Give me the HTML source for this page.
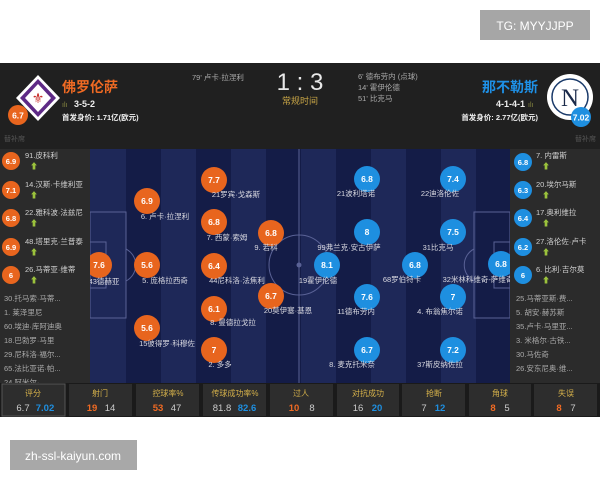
<!DOCTYPE html>
<html><head><meta charset="utf-8"><style>
html,body{margin:0;padding:0;background:#fff;width:600px;height:480px;overflow:hidden}
svg{display:block;font-family:"Liberation Sans","Noto Sans CJK SC",sans-serif}
</style></head><body>
<svg width="600" height="480" viewBox="0 0 600 480" xmlns="http://www.w3.org/2000/svg">
<rect width="600" height="480" fill="#fff"/>
<rect x="480" y="10" width="110" height="30" fill="#a6a6a6"/>
<text x="535" y="30" fill="#fff" font-size="12" text-anchor="middle">TG: MYYJJPP</text>
<rect x="10" y="440" width="127" height="30" fill="#a8a8a8"/>
<text x="73" y="460" fill="#fff" font-size="12" text-anchor="middle">zh-ssl-kaiyun.com</text>

<!-- header -->
<rect x="0" y="63" width="600" height="86" fill="#202020"/>
<polygon points="38,75 60,98 38,121 16,98" fill="#fff"/>
<polygon points="38,79 56,98 38,117 20,98" fill="#5e2a86"/>
<polygon points="38,84 51,98 38,112 25,98" fill="#fff"/>
<text x="38" y="103" fill="#c8302c" font-size="14" text-anchor="middle">⚜</text>
<circle cx="18" cy="115" r="10" fill="#e8651e"/>
<text x="18" y="118.5" fill="#fff" font-size="8.5" font-weight="bold" text-anchor="middle">6.7</text>
<text x="62" y="92" fill="#f06a23" font-size="14" font-weight="bold">佛罗伦萨</text>
<text x="62" y="107" fill="#8a8a40" font-size="7">ılı</text>
<text x="74" y="107" fill="#eee" font-size="9" font-weight="bold">3-5-2</text>
<text x="62" y="120" fill="#eee" font-size="7.5" font-weight="bold">首发身价: 1.71亿(欧元)</text>
<text x="4" y="141" fill="#555" font-size="7">替补席</text>
<text x="192" y="80" fill="#aaa" font-size="7.5">79' 卢卡·拉涅利</text>
<text x="300" y="90" fill="#e8e8e8" font-size="24" text-anchor="middle">1 : 3</text>
<text x="300" y="104" fill="#c9a646" font-size="9" text-anchor="middle">常规时间</text>
<text x="358" y="79" fill="#aaa" font-size="7.5">6' 德布劳内 (点球)</text>
<text x="358" y="90" fill="#aaa" font-size="7.5">14' 霍伊伦德</text>
<text x="358" y="101" fill="#aaa" font-size="7.5">51' 比克马</text>
<text x="538" y="92" fill="#1e90e6" font-size="14" font-weight="bold" text-anchor="end">那不勒斯</text>
<text x="525" y="107" fill="#eee" font-size="9" font-weight="bold" text-anchor="end">4-1-4-1</text>
<text x="528" y="107" fill="#8a8a40" font-size="7">ılı</text>
<text x="538" y="120" fill="#eee" font-size="7.5" font-weight="bold" text-anchor="end">首发身价: 2.77亿(欧元)</text>
<circle cx="570" cy="97" r="23" fill="#fff"/>
<circle cx="570" cy="97" r="18" fill="none" stroke="#1a3a6a" stroke-width="1.5"/>
<text x="570" y="106" fill="#1a2a4a" font-size="25" font-family="Liberation Serif,serif" text-anchor="middle">N</text>
<circle cx="581" cy="117" r="10" fill="#1e8fe0"/>
<text x="581" y="120.5" fill="#fff" font-size="8.5" font-weight="bold" text-anchor="middle">7.02</text>
<text x="596" y="141" fill="#555" font-size="7" text-anchor="end">替补席</text>

<!-- pitch -->
<rect x="90" y="149" width="420" height="234" fill="#1e2858"/>
<g fill="#141c47">
<rect x="126" y="149" width="35" height="234"/><rect x="196" y="149" width="35" height="234"/>
<rect x="266" y="149" width="35" height="234"/><rect x="336" y="149" width="35" height="234"/>
<rect x="406" y="149" width="35" height="234"/><rect x="476" y="149" width="34" height="234"/>
</g>
<g stroke="#5a6296" stroke-width="1" fill="none">
<line x1="299" y1="149" x2="299" y2="383"/>
<circle cx="299" cy="265" r="30"/>
<rect x="90" y="212" width="36" height="106"/>
<rect x="90" y="242" width="16" height="46"/>
<path d="M126,249 A18,18 0 0 1 126,281"/>
<rect x="474" y="212" width="36" height="106"/>
<rect x="494" y="242" width="16" height="46"/>
<path d="M474,249 A18,18 0 0 0 474,281"/>
</g>
<circle cx="299" cy="265" r="2.5" fill="#5a6296"/>

<g font-size="8.5" font-weight="bold" text-anchor="middle" fill="#fff">
<g fill="#e8651e">
<circle cx="99" cy="265" r="13"/><circle cx="147" cy="201" r="13"/><circle cx="147" cy="265" r="13"/><circle cx="147" cy="328" r="13"/>
<circle cx="214" cy="180" r="13"/><circle cx="214" cy="222" r="13"/><circle cx="214" cy="266" r="13"/><circle cx="214" cy="309" r="13"/><circle cx="214" cy="350" r="13"/>
<circle cx="271" cy="233" r="13"/><circle cx="271" cy="296" r="13"/>
</g>
<g fill="#1e8fe0">
<circle cx="367" cy="179" r="13"/><circle cx="453" cy="179" r="13"/><circle cx="367" cy="232" r="13"/><circle cx="453" cy="232" r="13"/>
<circle cx="327" cy="265" r="13"/><circle cx="415" cy="265" r="13"/><circle cx="501" cy="264" r="13"/>
<circle cx="367" cy="297" r="13"/><circle cx="453" cy="297" r="13"/><circle cx="367" cy="350" r="13"/><circle cx="453" cy="350" r="13"/>
</g>
<text x="99" y="268">7.6</text><text x="147" y="204">6.9</text><text x="147" y="268">5.6</text><text x="147" y="331">5.6</text>
<text x="214" y="183">7.7</text><text x="214" y="225">6.8</text><text x="214" y="269">6.4</text><text x="214" y="312">6.1</text><text x="214" y="353">7</text>
<text x="271" y="236">6.8</text><text x="271" y="299">6.7</text>
<text x="367" y="182">6.8</text><text x="453" y="182">7.4</text><text x="367" y="235">8</text><text x="453" y="235">7.5</text>
<text x="327" y="268">8.1</text><text x="415" y="268">6.8</text><text x="501" y="267">6.8</text>
<text x="367" y="300">7.6</text><text x="453" y="300">7</text><text x="367" y="353">6.7</text><text x="453" y="353">7.2</text>
</g>
<g font-size="7.5" fill="#d8d8e0" text-anchor="middle">
<text x="104" y="284">43德赫亚</text><text x="165" y="219">6. 卢卡·拉涅利</text><text x="165" y="283">5. 庞格拉西奇</text><text x="167" y="346">15彼得罗·科穆佐</text>
<text x="236" y="197">21罗宾·戈森斯</text><text x="227" y="240">7. 西蒙·索姆</text><text x="237" y="283">44尼科洛·法焦利</text><text x="233" y="325">8. 曼德拉戈拉</text><text x="220" y="367">2. 多多</text>
<text x="266" y="250">9. 若科</text><text x="288" y="313">20莫伊塞·基恩</text>
<text x="356" y="196">21波利塔诺</text><text x="440" y="196">22迪洛伦佐</text><text x="349" y="250">99弗兰克·安古伊萨</text><text x="438" y="250">31比克马</text>
<text x="318" y="283">19霍伊伦德</text><text x="402" y="282">68罗伯特卡</text><text x="478" y="282">32米林科维奇-萨维奇</text>
<text x="356" y="314">11德布劳内</text><text x="440" y="314">4. 布翁焦尔诺</text><text x="352" y="367">8. 麦克托米奈</text><text x="440" y="367">37斯皮纳佐拉</text>
</g>

<!-- left sidebar -->
<rect x="0" y="149" width="90" height="234" fill="#2b2b2b"/>
<g fill="#e8651e"><circle cx="11" cy="161" r="9"/><circle cx="11" cy="190" r="9"/><circle cx="11" cy="218" r="9"/><circle cx="11" cy="247" r="9"/><circle cx="11" cy="275" r="9"/></g>
<g font-size="7.5" font-weight="bold" fill="#fff" text-anchor="middle">
<text x="11" y="164">6.9</text><text x="11" y="193">7.1</text><text x="11" y="221">6.8</text><text x="11" y="250">6.9</text><text x="11" y="278">6</text></g>
<g font-size="7.5" fill="#d0d0d0">
<text x="25" y="158">91.皮科利</text><text x="25" y="187">14.汉斯·卡维利亚</text><text x="25" y="215">22.雅科波·法兹尼</text><text x="25" y="244">48.塔里克·兰普泰</text><text x="25" y="272">26.马蒂亚·维蒂</text>
</g>
<g font-size="8" fill="#9bc23c"><text x="30" y="169">⬆</text><text x="30" y="198">⬆</text><text x="30" y="226">⬆</text><text x="30" y="255">⬆</text><text x="30" y="283">⬆</text></g>
<g font-size="7.5" fill="#aaa">
<text x="4" y="301">30.托马索·马蒂...</text><text x="4" y="315">1. 莱泽里尼</text><text x="4" y="329">60.埃迪·库阿迪奥</text><text x="4" y="343">18.巴勃罗·马里</text><text x="4" y="357">29.尼科洛·福尔...</text><text x="4" y="371">65.法比亚诺·帕...</text><text x="4" y="385">24.阿米尔·...</text>
</g>

<!-- right sidebar -->
<rect x="510" y="149" width="90" height="234" fill="#2b2b2b"/>
<g fill="#1e8fe0"><circle cx="523" cy="162" r="9"/><circle cx="523" cy="190" r="9"/><circle cx="523" cy="218" r="9"/><circle cx="523" cy="247" r="9"/><circle cx="523" cy="275" r="9"/></g>
<g font-size="7.5" font-weight="bold" fill="#fff" text-anchor="middle">
<text x="523" y="165">6.8</text><text x="523" y="193">6.3</text><text x="523" y="221">6.4</text><text x="523" y="250">6.2</text><text x="523" y="278">6</text></g>
<g font-size="7.5" fill="#d0d0d0">
<text x="536" y="158">7. 内雷斯</text><text x="536" y="187">20.埃尔马斯</text><text x="536" y="215">17.奥利维拉</text><text x="536" y="244">27.洛伦佐·卢卡</text><text x="536" y="272">6. 比利·吉尔莫</text>
</g>
<g font-size="8" fill="#9bc23c"><text x="542" y="169">⬆</text><text x="542" y="198">⬆</text><text x="542" y="226">⬆</text><text x="542" y="255">⬆</text><text x="542" y="283">⬆</text></g>
<g font-size="7.5" fill="#aaa">
<text x="516" y="301">25.马蒂亚斯·费...</text><text x="516" y="315">5. 胡安·赫苏斯</text><text x="516" y="329">35.卢卡·马里亚...</text><text x="516" y="343">3. 米格尔·古铁...</text><text x="516" y="357">30.马佐奇</text><text x="516" y="371">26.安东尼奥·维...</text>
</g>

<!-- stats -->
<rect x="0" y="383" width="600" height="34" fill="#1a1a1a"/>
<g fill="#2d2d2d">
<rect x="2" y="384" width="63" height="32" stroke="#555" stroke-width="1"/>
<rect x="69" y="384" width="63" height="32"/><rect x="136" y="384" width="63" height="32"/><rect x="203" y="384" width="63" height="32"/>
<rect x="270" y="384" width="63" height="32"/><rect x="337" y="384" width="62" height="32"/><rect x="402" y="384" width="63" height="32"/>
<rect x="469" y="384" width="62" height="32"/><rect x="534" y="384" width="63" height="32"/>
</g>
<g font-size="8" fill="#d4b04a" text-anchor="middle">
<text x="33" y="396">评分</text><text x="100" y="396">射门</text><text x="168" y="396">控球率%</text><text x="235" y="396">传球成功率%</text>
<text x="301" y="396">过人</text><text x="368" y="396">对抗成功</text><text x="434" y="396">抢断</text><text x="500" y="396">角球</text><text x="566" y="396">失误</text>
</g>
<g font-size="9.5" text-anchor="middle">
<text x="23" y="411" fill="#ccc">6.7</text><text x="45" y="411" fill="#1e8fe0" font-weight="bold">7.02</text>
<text x="92" y="411" fill="#f06a23" font-weight="bold">19</text><text x="110" y="411" fill="#ccc">14</text>
<text x="158" y="411" fill="#f06a23" font-weight="bold">53</text><text x="176" y="411" fill="#ccc">47</text>
<text x="222" y="411" fill="#ccc">81.8</text><text x="247" y="411" fill="#1e8fe0" font-weight="bold">82.6</text>
<text x="294" y="411" fill="#f06a23" font-weight="bold">10</text><text x="312" y="411" fill="#ccc">8</text>
<text x="358" y="411" fill="#ccc">16</text><text x="377" y="411" fill="#1e8fe0" font-weight="bold">20</text>
<text x="424" y="411" fill="#ccc">7</text><text x="440" y="411" fill="#1e8fe0" font-weight="bold">12</text>
<text x="493" y="411" fill="#f06a23" font-weight="bold">8</text><text x="507" y="411" fill="#ccc">5</text>
<text x="559" y="411" fill="#f06a23" font-weight="bold">8</text><text x="573" y="411" fill="#ccc">7</text>
</g>
</svg>
</body></html>
